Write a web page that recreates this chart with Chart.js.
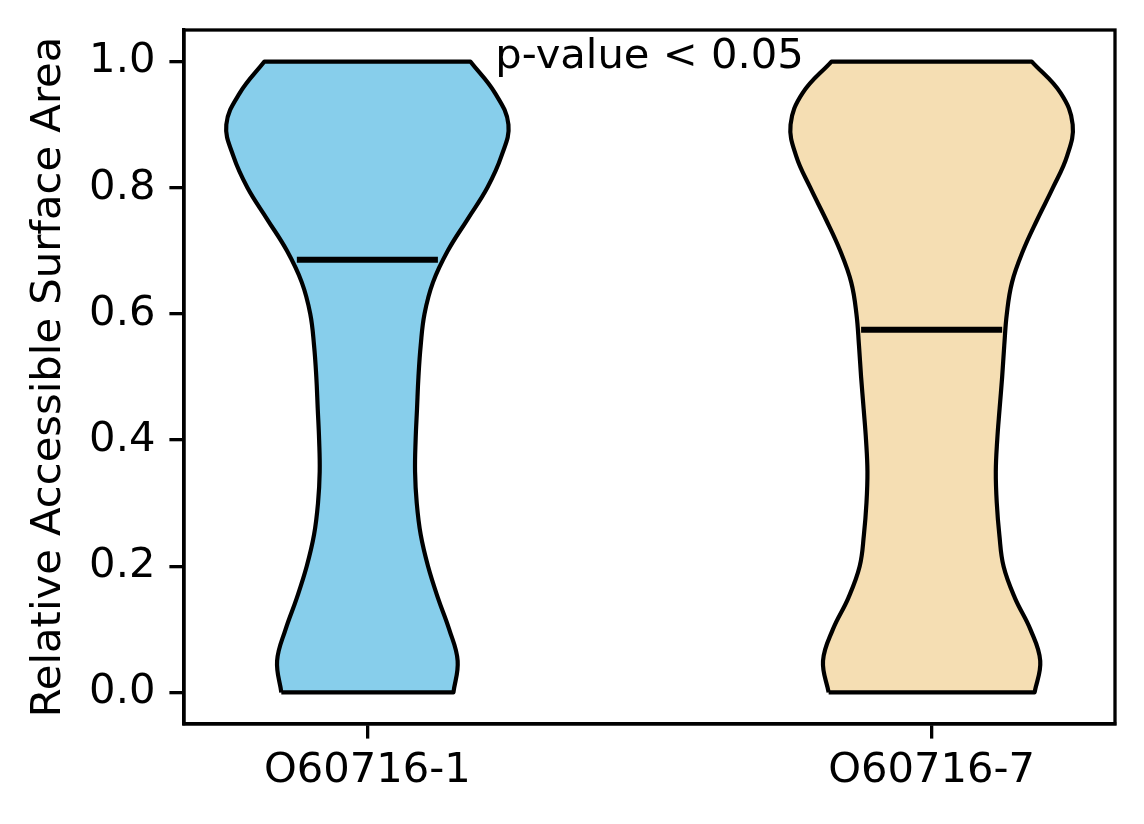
<!DOCTYPE html>
<html>
<head>
<meta charset="utf-8">
<script src="https://cdn.jsdelivr.net/npm/chart.js@4.4.1/dist/chart.umd.min.js"></script>
<style>
  html, body { margin: 0; padding: 0; background: #ffffff; }
  #wrap { width: 1144px; height: 824px; }
</style>
</head>
<body>
<div id="wrap"><canvas id="c" width="1144" height="824"></canvas></div>
<script>
// ---------------- data ----------------
const CATEGORIES = ['O60716-1', 'O60716-7'];
const POSITIONS = [1, 2];
// y levels at which the violin density (relative, max = 1) was read
const Y_LEVELS = [0.00, 0.05, 0.10, 0.15, 0.20, 0.25, 0.30, 0.35, 0.40, 0.45, 0.50,
                  0.55, 0.60, 0.65, 0.70, 0.75, 0.80, 0.85, 0.90, 0.95, 1.00];
const DENSITY_1 = [0.61, 0.64, 0.58, 0.50, 0.43, 0.378, 0.35, 0.338, 0.342, 0.352, 0.362,
                   0.378, 0.405, 0.465, 0.57, 0.71, 0.85, 0.95, 1.00, 0.905, 0.73];
const DENSITY_2 = [0.73, 0.77, 0.70, 0.59, 0.51, 0.48, 0.462, 0.455, 0.465, 0.482, 0.50,
                   0.515, 0.533, 0.57, 0.648, 0.75, 0.86, 0.96, 1.00, 0.915, 0.71];
const MEDIANS = [0.686, 0.575];
const Y_TICKS = [0.0, 0.2, 0.4, 0.6, 0.8, 1.0];
const Y_LABEL = 'Relative Accessible Surface Area';
const P_TEXT = 'p-value < 0.05';

// ---------------- style ----------------
const FILLS = ['rgb(135,206,235)', 'rgb(245,222,179)'];
const VIOLIN_WIDTH = 0.5;
const HALF = VIOLIN_WIDTH / 2;
const FONT = "'DejaVu Sans', sans-serif";
const FS = 41.7;
const LW = 3.3;

function violinPath(center, dens) {
  const left = Y_LEVELS.map((y, i) => ({ x: center - dens[i] * HALF, y }));
  const right = Y_LEVELS.map((y, i) => ({ x: center + dens[i] * HALF, y })).reverse();
  return [left[0], ...left, left[left.length - 1], right[0], ...right, right[right.length - 1], left[0]];
}

const densities = [DENSITY_1, DENSITY_2];
const datasets = [];
POSITIONS.forEach((p, i) => {
  datasets.push({
    data: violinPath(p, densities[i]),
    backgroundColor: FILLS[i],
    borderColor: '#000000',
    borderWidth: 4.2,
    fill: 'shape',
    tension: 0.4,
    pointRadius: 0,
    borderJoinStyle: 'round',
    order: 2
  });
});
POSITIONS.forEach((p, i) => {
  datasets.push({
    data: [{ x: p - HALF / 2, y: MEDIANS[i] }, { x: p + HALF / 2, y: MEDIANS[i] }],
    borderColor: '#000000',
    borderWidth: 6,
    fill: false,
    tension: 0,
    pointRadius: 0,
    borderCapStyle: 'butt',
    order: 1
  });
});

const framePlugin = {
  id: 'frame',
  afterDraw(chart) {
    const { ctx, chartArea: a } = chart;
    ctx.save();
    ctx.strokeStyle = '#000';
    ctx.lineWidth = LW;
    ctx.strokeRect(a.left, a.top, a.right - a.left, a.bottom - a.top);
    ctx.restore();
  }
};
const textPlugin = {
  id: 'ptext',
  afterDatasetsDraw(chart) {
    const { ctx, scales } = chart;
    const xm = (POSITIONS[0] + POSITIONS[1]) / 2;
    ctx.save();
    ctx.font = FS + 'px ' + FONT;
    ctx.fillStyle = '#000';
    ctx.textAlign = 'center';
    ctx.textBaseline = 'alphabetic';
    ctx.fillText(P_TEXT, scales.x.getPixelForValue(xm), scales.y.getPixelForValue(1.0) + 6);
    ctx.restore();
  }
};

new Chart(document.getElementById('c'), {
  type: 'line',
  data: { datasets },
  options: {
    responsive: false,
    animation: false,
    devicePixelRatio: 1,
    layout: { padding: { left: 0, top: 30, right: 29, bottom: 0 } },
    plugins: { legend: { display: false }, tooltip: { enabled: false } },
    events: [],
    scales: {
      x: {
        type: 'linear',
        min: POSITIONS[0] - HALF - 0.075,
        max: POSITIONS[1] + HALF + 0.075,
        afterBuildTicks(s) { s.ticks = POSITIONS.map(v => ({ value: v })); },
        afterFit(s) { s.height = 100; s.paddingLeft = 0; s.paddingRight = 0; s.paddingTop = 0; s.paddingBottom = 0; },
        ticks: {
          callback: (v) => CATEGORIES[POSITIONS.indexOf(v)],
          font: { family: FONT, size: FS },
          color: '#000',
          padding: 8,
          maxRotation: 0,
          autoSkip: false
        },
        grid: { display: true, drawOnChartArea: false, drawTicks: true, tickLength: 14.6, color: '#000', lineWidth: LW },
        border: { display: true, color: '#000', width: LW }
      },
      y: {
        type: 'linear',
        min: -0.05,
        max: 1.05,
        afterBuildTicks(s) { s.ticks = Y_TICKS.map(v => ({ value: v })); },
        afterFit(s) { s.width = 184; s.paddingLeft = 0; s.paddingRight = 0; s.paddingTop = 0; s.paddingBottom = 0; },
        ticks: {
          callback: (v) => Number(v).toFixed(1),
          font: { family: FONT, size: FS },
          color: '#000',
          padding: 14
        },
        grid: { display: true, drawOnChartArea: false, drawTicks: true, tickLength: 14.6, color: '#000', lineWidth: LW },
        border: { display: true, color: '#000', width: LW },
        title: {
          display: true,
          text: Y_LABEL,
          font: { family: FONT, size: FS },
          color: '#000',
          padding: { top: 24, bottom: 0 }
        }
      }
    }
  },
  plugins: [framePlugin, textPlugin]
});
</script>
</body>
</html>
